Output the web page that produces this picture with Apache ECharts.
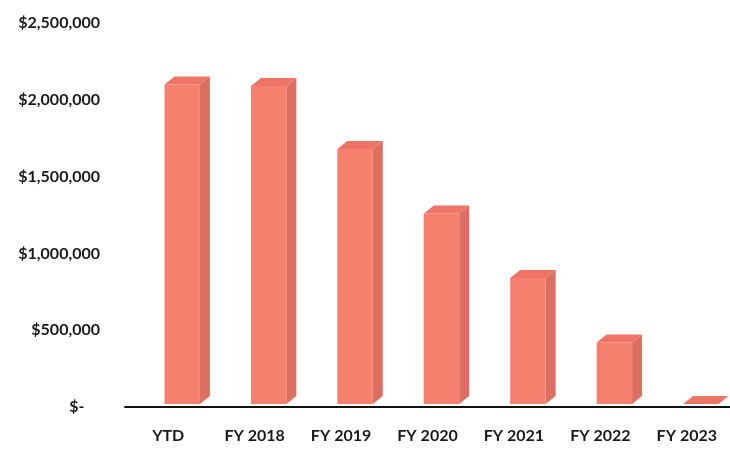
<!DOCTYPE html>
<html>
<head>
<meta charset="utf-8">
<script src="https://cdn.jsdelivr.net/npm/echarts@6/dist/echarts.min.js"></script>
<style>html,body{margin:0;padding:0;background:#fff;}#c{width:730px;height:450px;}</style>
</head>
<body>
<div id="c"></div>
<script>
var categories = ['YTD', 'FY 2018', 'FY 2019', 'FY 2020', 'FY 2021', 'FY 2022', 'FY 2023'];
var values = [2100000, 2090000, 1680000, 1260000, 840000, 420000, 0];
var yTicks = [0, 500000, 1000000, 1500000, 2000000, 2500000];

function fmt(v) {
  if (v === 0) return '$-    ';
  return '$' + String(v).replace(/\B(?=(\d{3})+(?!\d))/g, ',');
}

var chart = echarts.init(document.getElementById('c'));
var data = categories.map(function (c, i) { return [i, values[i]]; });

chart.setOption({
  animation: false,
  backgroundColor: '#ffffff',
  grid: { left: 125, right: 0, top: 23, bottom: 43 },
  xAxis: {
    type: 'category',
    data: categories,
    axisLine: { show: true, onZero: false, lineStyle: { color: '#111', width: 2 } },
    axisTick: { show: false },
    axisLabel: { margin: 21, color: '#1a1a1a', fontFamily: 'Lato', fontWeight: 'bold', fontSize: 16 }
  },
  yAxis: {
    type: 'value',
    min: yTicks[0],
    max: yTicks[yTicks.length - 1],
    interval: 500000,
    splitLine: { show: false },
    axisLine: { show: false },
    axisTick: { show: false },
    axisLabel: { margin: 25, color: '#1a1a1a', fontFamily: 'Lato', fontWeight: 'bold', fontSize: 16, formatter: fmt }
  },
  series: [{
    type: 'custom',
    data: data,
    renderItem: function (params, api) {
      var top = api.coord([api.value(0), api.value(1)]);
      var base = api.coord([api.value(0), 0]);
      var band = api.size([1, 0])[0];
      var w = band * 0.41;
      var cx = top[0] + 14;
      var x0 = cx - w / 2, x1 = cx + w / 2;
      var yt = top[1], yb = base[1] - 3;
      if (yt > yb) yt = yb;
      var dx = 10, dy = 8;
      return {
        type: 'group',
        children: [
          { type: 'polygon', shape: { points: [[x1, yt], [x1 + dx, yt - dy], [x1 + dx, yb - dy], [x1, yb]] }, style: { fill: '#dd6f61' } },
          { type: 'rect', shape: { x: x0, y: yt, width: w, height: yb - yt }, style: { fill: '#f5806e' } },
          { type: 'polygon', shape: { points: [[x0, yt], [x0 + dx, yt - dy], [x1 + dx, yt - dy], [x1, yt]] }, style: { fill: '#ee7465' } }
        ]
      };
    }
  }]
});
</script>
</body>
</html>
